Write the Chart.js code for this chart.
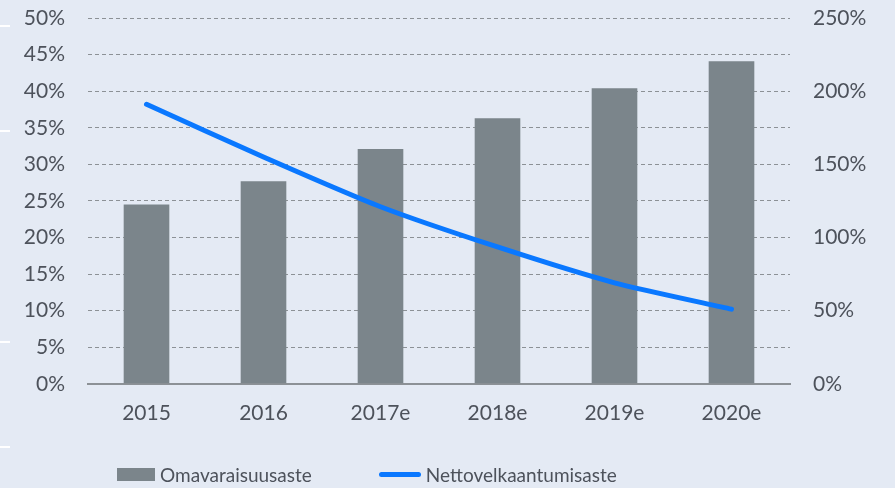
<!DOCTYPE html>
<html>
<head>
<meta charset="utf-8">
<script src="https://cdn.jsdelivr.net/npm/chart.js@4.4.1/dist/chart.umd.min.js"></script>
<style>
  html, body { margin: 0; padding: 0; background: #e4eaf4; }
  #wrap { position: relative; width: 895px; height: 488px; }
  .edge { position: absolute; left: 0; width: 10px; height: 2px; background: #ffffff; }
  #legend { position: absolute; top: 463px; left: 117px; display: flex; align-items: center;
    font-family: Lato, sans-serif; font-size: 19px; color: #4d525b; }
  .item { display: flex; align-items: center; }
  .item + .item { margin-left: 67px; }
  .swatch { margin-right: 5px; }
</style>
</head>
<body>
<div id="wrap">
  <canvas id="chart" width="895" height="488"></canvas>
  <div class="edge" style="top:25px"></div>
  <div class="edge" style="top:130px"></div>
  <div class="edge" style="top:341px"></div>
  <div class="edge" style="top:446px"></div>
  <div id="legend"></div>
</div>
<script>
const years = ['2015', '2016', '2017e', '2018e', '2019e', '2020e'];
const omavaraisuusaste = [24.5, 27.7, 32.1, 36.3, 40.4, 44.1];
const nettovelkaantumisaste = [191, 155, 121, 93.5, 69, 51];

const textColor = '#4d525b';
const gridColor = '#8c9196';

document.addEventListener('DOMContentLoaded', function() {
  const ctx = document.getElementById('chart');

  const chart = new Chart(ctx, {
    type: 'bar',
    data: {
      labels: years,
      datasets: [{
        type: 'line',
        label: 'Nettovelkaantumisaste',
        data: nettovelkaantumisaste,
        yAxisID: 'y2',
        borderColor: '#0a78ff',
        borderWidth: 5,
        borderCapStyle: 'round',
        pointRadius: 0,
        tension: 0.2,
        order: 0
      }, {
        label: 'Omavaraisuusaste',
        data: omavaraisuusaste,
        yAxisID: 'y',
        backgroundColor: '#7b858b',
        categoryPercentage: 1,
        barPercentage: 0.39,
        order: 1
      }]
    },
    options: {
      responsive: false,
      animation: false,
      layout: { padding: { left: 0, right: 0, top: 0, bottom: 53 } },
      plugins: {
        legend: { display: false },
        tooltip: { enabled: false }
      },
      scales: {
        x: {
          grid: { display: false },
          border: { display: true, color: gridColor, width: 2 },
          ticks: { color: textColor, padding: 9, font: { family: 'Lato', size: 21 } }
        },
        y: {
          position: 'left',
          min: 0, max: 50,
          grid: { color: gridColor, lineWidth: 1, drawTicks: false },
          border: { display: false, dash: [4, 3] },
          ticks: {
            stepSize: 5, padding: 23, color: textColor,
            font: { family: 'Lato', size: 21 },
            callback: v => v + '%'
          },
          // fixed axis width so the plot starts where the reference does
          afterFit: s => { s.width = 88; s.paddingTop = 18; s.paddingBottom = 0; }
        },
        y2: {
          position: 'right',
          min: 0, max: 250,
          grid: { drawOnChartArea: false, drawTicks: false },
          border: { display: false },
          ticks: {
            stepSize: 50, padding: 23, color: textColor,
            font: { family: 'Lato', size: 21 },
            callback: v => v + '%'
          },
          afterFit: s => { s.width = 105; s.paddingTop = 18; s.paddingBottom = 0; }
        }
      }
    }
  });

  // legend built from the datasets, bar first
  const legend = document.getElementById('legend');
  [1, 0].forEach(i => {
    const ds = chart.data.datasets[i];
    const item = document.createElement('div');
    item.className = 'item';
    const sw = document.createElement('span');
    sw.className = 'swatch';
    if (ds.type === 'line') {
      sw.style.cssText = 'display:inline-block;width:42px;height:5px;border-radius:3px;background:' + ds.borderColor;
    } else {
      sw.style.cssText = 'display:inline-block;width:38px;height:13px;background:' + ds.backgroundColor;
    }
    item.appendChild(sw);
    item.appendChild(document.createTextNode(ds.label));
    legend.appendChild(item);
  });
});
</script>
</body>
</html>
